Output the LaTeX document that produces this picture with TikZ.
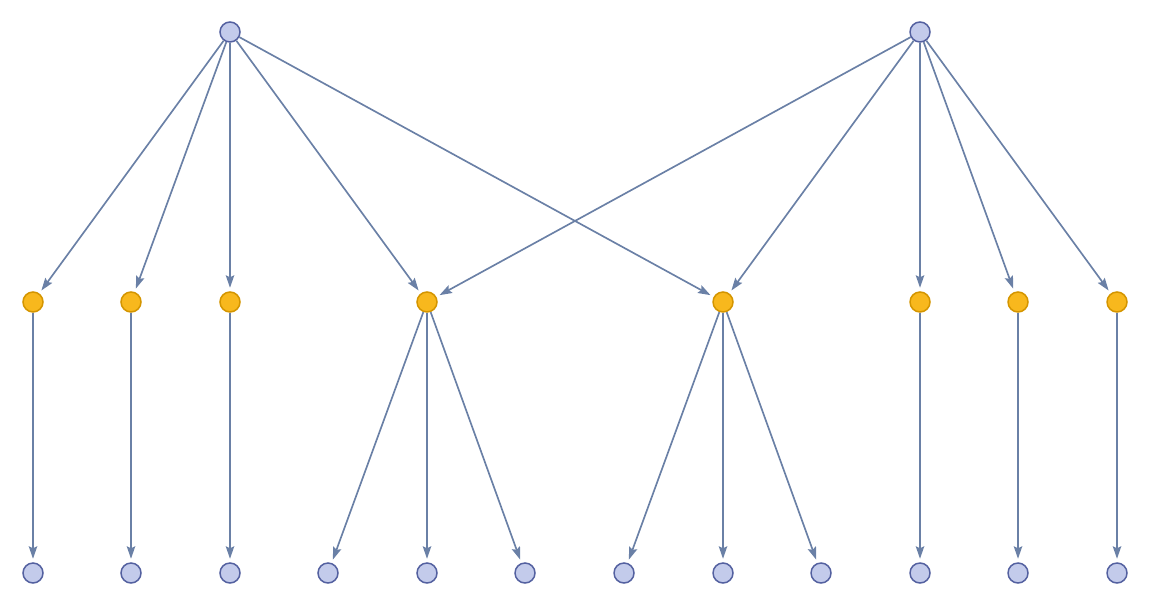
\documentclass[tikz,border=0pt]{standalone}
\usepackage{tikz}
\usetikzlibrary{arrows.meta}
\definecolor{vtxblue}{HTML}{C3CBEB}
\definecolor{vtxblueline}{HTML}{5461A0}
\definecolor{vtxorange}{HTML}{F8B81D}
\definecolor{vtxorangeline}{HTML}{D49500}
\definecolor{edgeblue}{HTML}{6A80A6}
\tikzset{
  bluevtx/.style={circle,draw=vtxblueline,fill=vtxblue,line width=0.85pt,
    minimum size=0.4cm,inner sep=0pt},
  orangevtx/.style={circle,draw=vtxorangeline,fill=vtxorange,line width=0.85pt,
    minimum size=0.4cm,inner sep=0pt},
  edgearrow/.style={-{Stealth[length=0.25cm,width=0.17cm,inset=0.04cm]},
    draw=edgeblue,line width=0.95pt,shorten >=0.07cm}
}

\begin{document}
\begin{tikzpicture}[x=0.02cm,y=-0.02cm]
  \useasboundingbox (0,0) rectangle (1152,608);
  % top row
  \node[bluevtx] (t1) at (230,32) {};
  \node[bluevtx] (t2) at (920,32) {};
  % middle row
  \foreach \n/\x in {1/33,2/131,3/230,4/427,5/723,6/920,7/1018,8/1117}
    \node[orangevtx] (m\n) at (\x,302) {};
  % bottom row
  \foreach \n/\x in {1/33,2/131,3/230,4/328,5/427,6/525,7/624,8/723,9/821,10/920,11/1018,12/1117}
    \node[bluevtx] (b\n) at (\x,573) {};
  % edges
  \foreach \m in {1,2,3,4,5}
    \draw[edgearrow] (t1) -- (m\m);
  \foreach \m in {4,5,6,7,8}
    \draw[edgearrow] (t2) -- (m\m);
  \foreach \m/\b in {1/1,2/2,3/3,4/4,4/5,4/6,5/7,5/8,5/9,6/10,7/11,8/12}
    \draw[edgearrow] (m\m) -- (b\b);
\end{tikzpicture}
\end{document}
